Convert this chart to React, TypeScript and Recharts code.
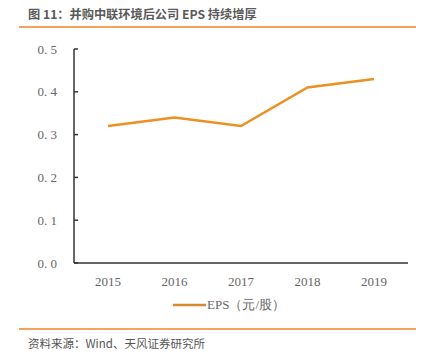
import { LineChart, Line, XAxis, YAxis } from "recharts";

const years = ["2015", "2016", "2017", "2018", "2019"];
const eps = [0.32, 0.34, 0.32, 0.41, 0.43];
const yTicks = [0, 0.1, 0.2, 0.3, 0.4, 0.5];

const data = years.map((year, i) => ({ year, eps: eps[i] }));

const LINE_COLOR = "#EE8F22";
const ACCENT = "#F4A259";

const App = () => {
  return (
    <div style={{ position: "absolute", left: 0, top: 0, width: 433, height: 356, background: "#fff" }}>
      <div
        style={{
          position: "absolute",
          left: 28,
          top: 5,
          fontFamily: "'Noto Sans CJK SC', sans-serif",
          fontSize: 12.2,
          fontWeight: 700,
          color: "#5a5a5a",
          whiteSpace: "nowrap",
        }}
      >
        图 11：并购中联环境后公司 EPS 持续增厚
      </div>
      <div style={{ position: "absolute", left: 19, top: 26, width: 397, height: 2, background: ACCENT }} />

      <LineChart width={433} height={320} data={data} margin={{ top: 49, right: 25, left: 0, bottom: 0 }}>
        <XAxis
          dataKey="year"
          height={57}
          padding={{ left: 34, right: 34 }}
          tickLine={false}
          axisLine={{ stroke: "#333", strokeWidth: 1.5 }}
          tickMargin={8}
          tick={{ fill: "#666", fontSize: 13, fontFamily: "'Liberation Serif', serif" }}
        />
        <YAxis
          width={74}
          domain={[0, 0.5]}
          ticks={yTicks}
          tickFormatter={(v: number) => v.toFixed(1).replace(".", ". ")}
          tickSize={-4}
          tickMargin={21}
          tickLine={{ stroke: "#333", strokeWidth: 1.5 }}
          axisLine={{ stroke: "#333", strokeWidth: 1.5 }}
          tick={{ fill: "#666", fontSize: 13, fontFamily: "'Liberation Serif', serif" }}
        />
        <Line
          type="linear"
          dataKey="eps"
          stroke={LINE_COLOR}
          strokeWidth={2.5}
          dot={false}
          isAnimationActive={false}
        />
      </LineChart>

      <div style={{ position: "absolute", left: 173, top: 296, display: "flex", alignItems: "center" }}>
        <svg width={33} height={6}>
          <line x1={0} y1={3} x2={33} y2={3} stroke="#D8892C" strokeWidth={2.5} />
        </svg>
        <span style={{ fontFamily: "'Liberation Serif', serif", fontSize: 13, color: "#666", marginLeft: 1 }}>
          EPS（元/股）
        </span>
      </div>

      <div style={{ position: "absolute", left: 19, top: 328, width: 397, height: 2, background: ACCENT }} />
      <div
        style={{
          position: "absolute",
          left: 28,
          top: 335,
          fontFamily: "'Noto Sans CJK SC', sans-serif",
          fontSize: 11.5,
          color: "#555",
          whiteSpace: "nowrap",
        }}
      >
        资料来源：Wind、天风证券研究所
      </div>
    </div>
  );
};

export default App;
